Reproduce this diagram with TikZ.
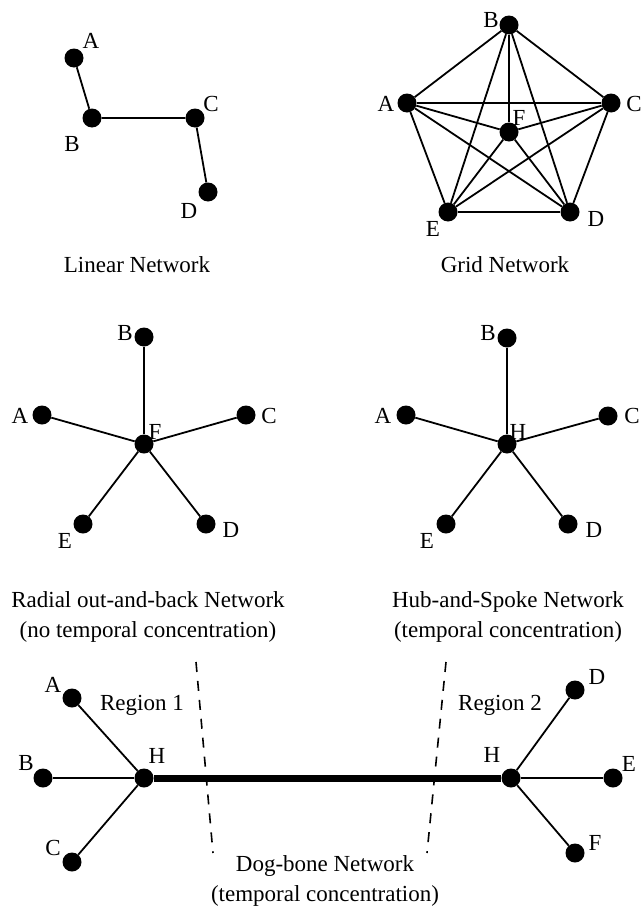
\documentclass[tikz,border=0pt]{standalone}
\usepackage{fontspec}
\setmainfont{Liberation Serif}
\usetikzlibrary{positioning}
\tikzset{
  vertex/.style={circle, fill=black, inner sep=0pt, minimum size=19pt},
  tag/.style={inner sep=0pt, font=\fontsize{23}{28}\selectfont},
  caption/.style={inner sep=0pt, align=center, font=\fontsize{23}{30}\selectfont},
  link/.style={line width=1.8pt},
  cut/.style={line width=1.6pt, dash pattern=on 10pt off 9pt},
}

\begin{document}
\begin{tikzpicture}[x=1pt, y=-1pt]
  \useasboundingbox (0,0) rectangle (643,910);

  % linear network
  \node[vertex] (lA) at (74,58) {};
  \node[vertex] (lB) at (92,118) {};
  \node[vertex] (lC) at (195,118) {};
  \node[vertex] (lD) at (208,192) {};
  \draw[link] (lA) -- (lB) -- (lC) -- (lD);
  \node[tag] (lAt) at (91,41) {A};
  \node[tag] (lBt) at (72,144) {B};
  \node[tag] (lCt) at (211,104) {C};
  \node[tag] (lDt) at (189,211) {D};
  \node[caption] (lcap) at (137,265) {Linear Network};

  % grid network
  \node[vertex] (gA) at (407,103) {};
  \node[vertex] (gB) at (509,25) {};
  \node[vertex] (gC) at (611,103) {};
  \node[vertex] (gD) at (570,212) {};
  \node[vertex] (gE) at (448,212) {};
  \node[vertex] (gF) at (509,132) {};
  \foreach \a/\b in {A/B,A/C,A/D,A/E,A/F,B/C,B/D,B/E,B/F,C/D,C/E,C/F,D/E,D/F,E/F}
    \draw[link] (g\a) -- (g\b);
  \node[tag] (gAt) at (386,104) {A};
  \node[tag] (gBt) at (491,20) {B};
  \node[tag] (gCt) at (634,104) {C};
  \node[tag] (gDt) at (596,219) {D};
  \node[tag] (gEt) at (433,229) {E};
  \node[tag] (gFt) at (519,118) {F};
  \node[caption] (gcap) at (505,265) {Grid Network};

  % radial out-and-back network
  \node[vertex] (rF) at (144,444) {};
  \node[vertex] (rA) at (42,415) {};
  \node[vertex] (rB) at (144,337) {};
  \node[vertex] (rC) at (246,415) {};
  \node[vertex] (rD) at (206,524) {};
  \node[vertex] (rE) at (83,524) {};
  \foreach \n in {A,B,C,D,E}
    \draw[link] (rF) -- (r\n);
  \node[tag] (rAt) at (20,416) {A};
  \node[tag] (rBt) at (125,333) {B};
  \node[tag] (rCt) at (269,416) {C};
  \node[tag] (rDt) at (231,530) {D};
  \node[tag] (rEt) at (65,541) {E};
  \node[tag] (rFt) at (155,432) {F};
  \node[caption] (rcap) at (148,617) {Radial out-and-back Network\\(no temporal concentration)};

  % hub-and-spoke network
  \node[vertex] (hH) at (507,444) {};
  \node[vertex] (hA) at (406,415) {};
  \node[vertex] (hB) at (507,338) {};
  \node[vertex] (hC) at (608,416) {};
  \node[vertex] (hD) at (568,524) {};
  \node[vertex] (hE) at (446,524) {};
  \foreach \n in {A,B,C,D,E}
    \draw[link] (hH) -- (h\n);
  \node[tag] (hAt) at (383,416) {A};
  \node[tag] (hBt) at (488,333) {B};
  \node[tag] (hCt) at (632,416) {C};
  \node[tag] (hDt) at (594,530) {D};
  \node[tag] (hEt) at (427,541) {E};
  \node[tag] (hHt) at (518,432) {H};
  \node[caption] (hcap) at (508,617) {Hub-and-Spoke Network\\(temporal concentration)};

  % dog-bone network
  \node[vertex] (dH1) at (144,778) {};
  \node[vertex] (dA) at (72,698) {};
  \node[vertex] (dB) at (43,778) {};
  \node[vertex] (dC) at (72,862) {};
  \node[vertex] (dH2) at (511,778) {};
  \node[vertex] (dD) at (575,690) {};
  \node[vertex] (dE) at (613,778) {};
  \node[vertex] (dF) at (575,853) {};
  \foreach \n in {A,B,C}
    \draw[link] (dH1) -- (d\n);
  \foreach \n in {D,E,F}
    \draw[link] (dH2) -- (d\n);
  \draw[line width=7pt] (dH1) -- (dH2);
  \coordinate (cut1top) at (196,662);
  \coordinate (cut1bot) at (213,853);
  \coordinate (cut2top) at (446,662);
  \coordinate (cut2bot) at (427,853);
  \draw[cut] (cut1top) -- (cut1bot);
  \draw[cut] (cut2top) -- (cut2bot);
  \node[tag] (dAt) at (53,685) {A};
  \node[tag] (dBt) at (26,763) {B};
  \node[tag] (dCt) at (53,848) {C};
  \node[tag] (dH1t) at (157,756) {H};
  \node[tag] (dH2t) at (492,755) {H};
  \node[tag] (dDt) at (597,677) {D};
  \node[tag] (dEt) at (629,764) {E};
  \node[tag] (dFt) at (595,843) {F};
  \node[tag] (reg1) at (142,705) {Region 1};
  \node[tag] (reg2) at (500,705) {Region 2};
  \node[caption] (dcap) at (325,881) {Dog-bone Network\\(temporal concentration)};
\end{tikzpicture}
\end{document}
